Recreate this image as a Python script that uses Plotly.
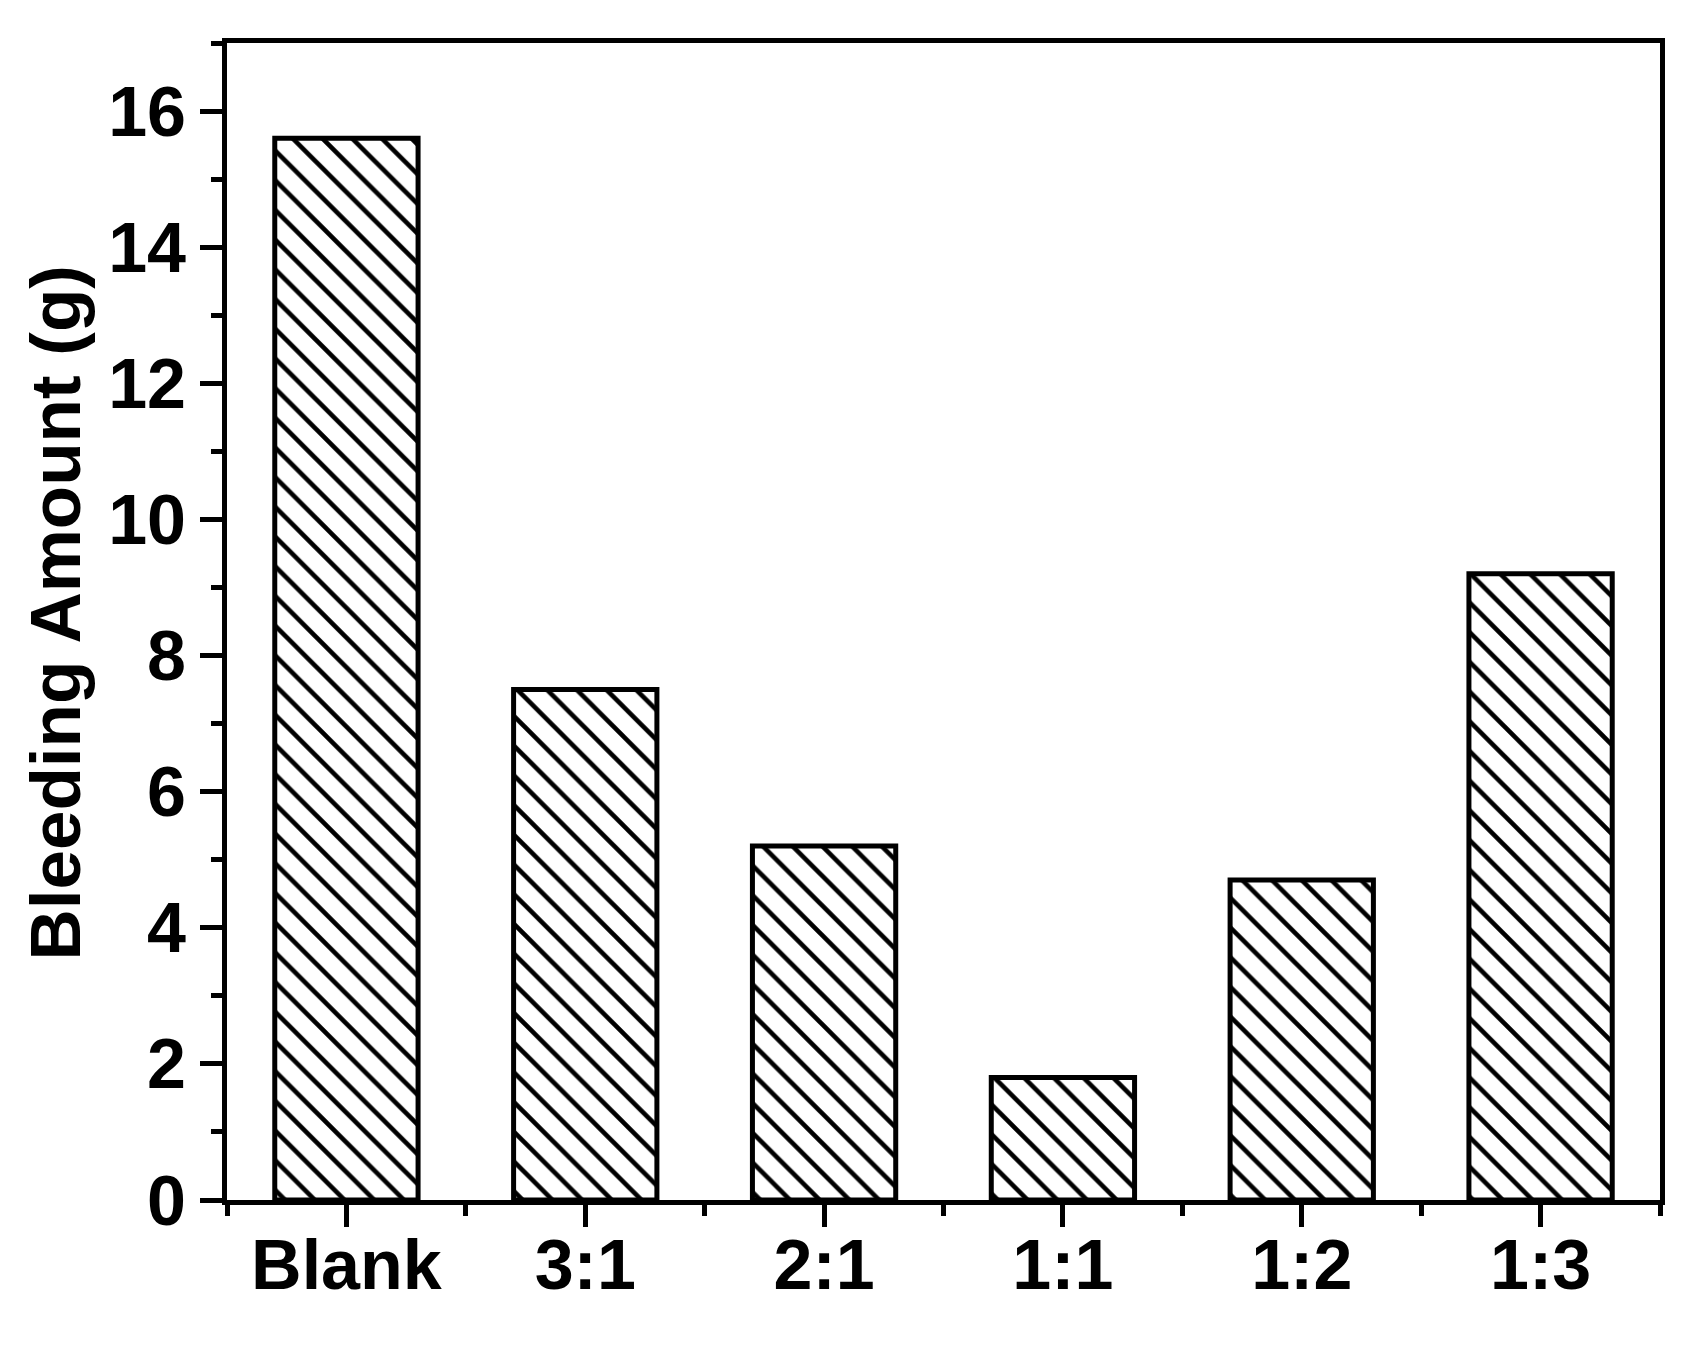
import plotly.graph_objects as go

categories = ["Blank", "3:1", "2:1", "1:1", "1:2", "1:3"]
bleeding = [15.6, 7.5, 5.2, 1.8, 4.7, 9.2]
y_ticks = [0, 2, 4, 6, 8, 10, 12, 14, 16]

x_pos = list(range(len(categories)))
font_main = dict(family="Liberation Sans, Arial, sans-serif", size=70, color="black", weight="bold")

# page body has an 8px margin, so the figure is a little smaller than the window
W, H = 1698, 1339
L, R, T, B = 219, 46, 35, 147

fig = go.Figure()
fig.add_trace(go.Bar(
    x=x_pos,
    y=bleeding,
    width=0.6,
    marker=dict(
        color="white",
        line=dict(color="black", width=5),
        pattern=dict(shape="\\", fgcolor="black", bgcolor="white", fgopacity=1,
                     size=21, solidity=0.22),
    ),
))

tick_style = dict(ticks="outside", ticklen=22, tickwidth=5, tickcolor="black")
minor_style = dict(ticks="outside", ticklen=11, tickwidth=5, tickcolor="black", dtick=1)

fig.update_xaxes(
    range=[-0.5, 5.5],
    tickvals=x_pos,
    ticktext=categories,
    tickfont=font_main,
    ticklabelstandoff=-22,
    minor=dict(tick0=0.5, **minor_style),
    showline=True, linewidth=5, linecolor="black", mirror=True,
    showgrid=False, zeroline=False,
    **tick_style,
)
fig.update_yaxes(
    range=[0, 17],
    tickvals=y_ticks,
    tickfont=font_main,
    ticklabelstandoff=0,
    minor=dict(tick0=0, **minor_style),
    showline=True, linewidth=5, linecolor="black", mirror=True,
    showgrid=False, zeroline=False,
    **tick_style,
)

fig.add_annotation(
    text="Bleeding Amount (g)",
    xref="paper", yref="paper",
    x=(47 - L) / (W - L - R), y=0.5 + 8 / (H - T - B),
    xanchor="center", yanchor="middle",
    textangle=-90, showarrow=False,
    font=dict(family="Liberation Sans, Arial, sans-serif", size=71, color="black", weight="bold"),
)

fig.update_layout(
    width=W, height=H,
    margin=dict(l=L, r=R, t=T, b=B),
    plot_bgcolor="white", paper_bgcolor="white",
    showlegend=False,
)

fig.write_html("out.html")
